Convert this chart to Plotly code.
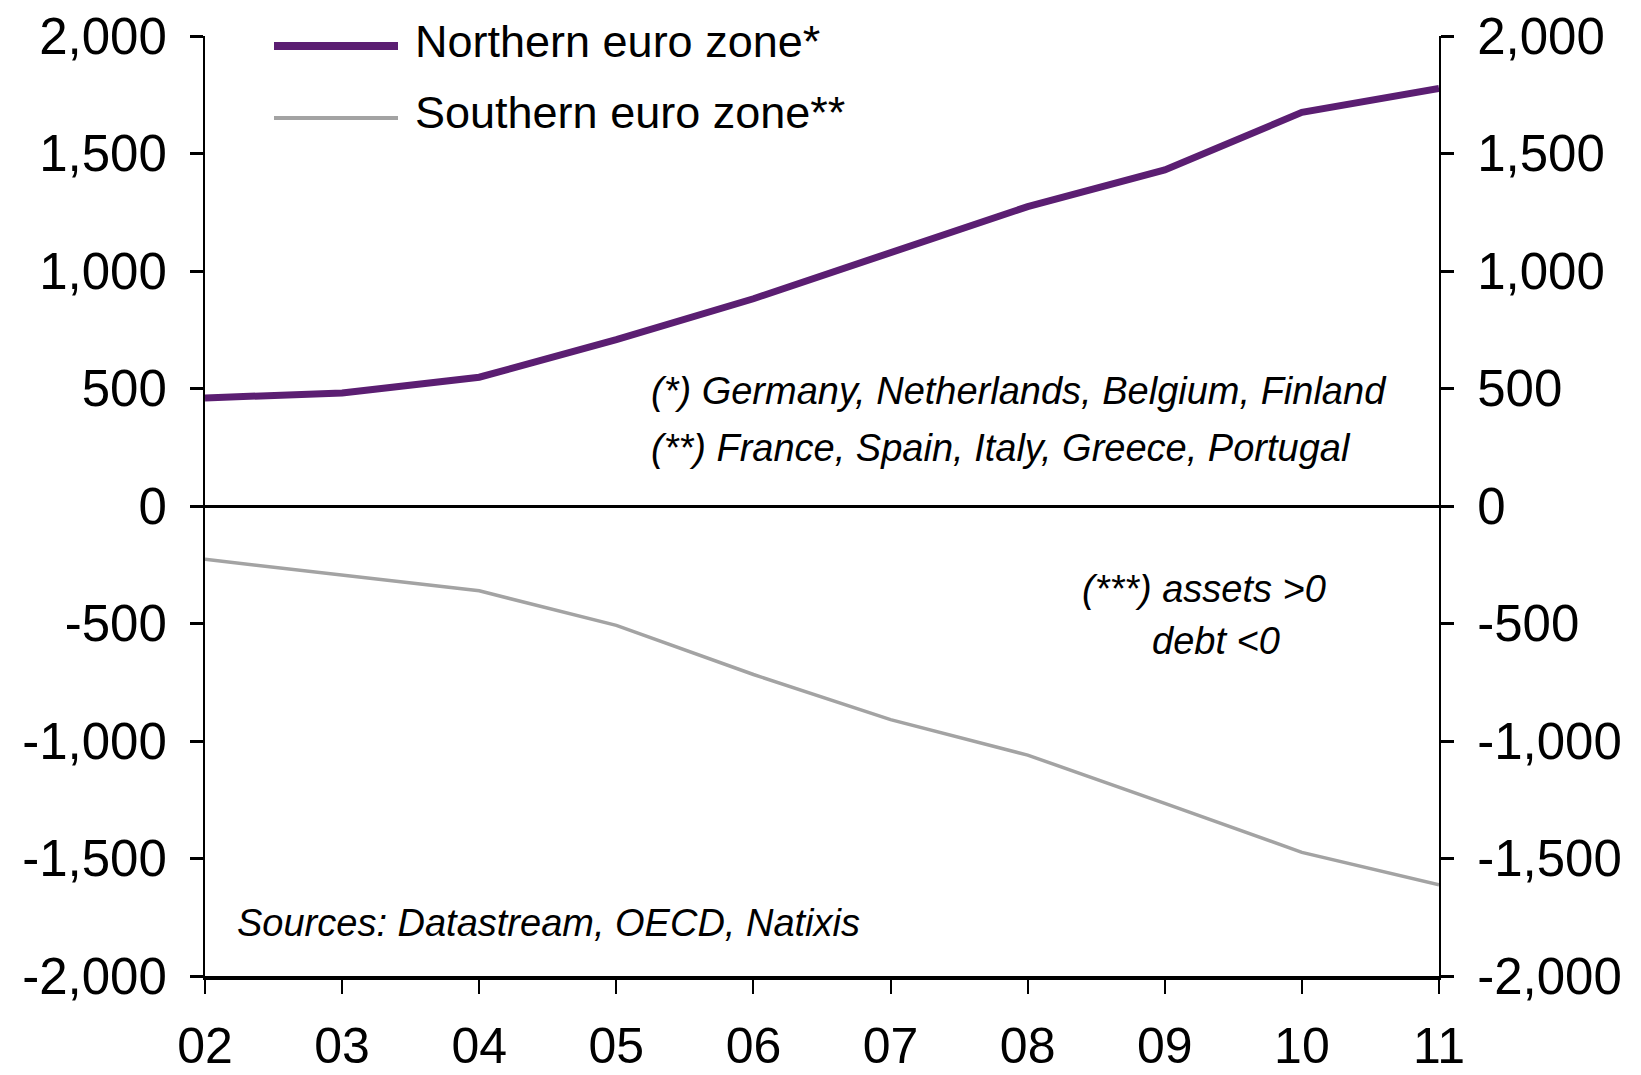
import plotly.graph_objects as go

# ---- data ----
years = [2002, 2003, 2004, 2005, 2006, 2007, 2008, 2009, 2010, 2011]
year_labels = ["02", "03", "04", "05", "06", "07", "08", "09", "10", "11"]
northern = [460, 481, 548, 708, 882, 1078, 1274, 1430, 1675, 1777]
southern = [-227, -294, -361, -508, -717, -909, -1060, -1265, -1474, -1612]
y_ticks = [-2000, -1500, -1000, -500, 0, 500, 1000, 1500, 2000]
y_tick_labels = ["-2,000", "-1,500", "-1,000", "-500", "0", "500", "1,000", "1,500", "2,000"]
series_names = ["Northern euro zone*", "Southern euro zone**"]

OFF = 8  # page body margin
W, H = 1641 - OFF, 1075 - OFF
L, R, T, B = 205, 1439, 36, 976  # plot area in screen pixels


def px(x):
    return (x - L) / (R - L)


def py(y):
    return (B - y) / (B - T)


PURPLE = "#5B1E72"
GREY = "#A3A3A3"
FONT = "Liberation Sans, Arial, sans-serif"
TICKFONT = dict(family=FONT, size=51, color="black")
XTICKFONT = dict(family=FONT, size=50, color="black")

fig = go.Figure()
fig.add_trace(go.Scatter(x=years, y=northern, mode="lines", name=series_names[0],
                         line=dict(color=PURPLE, width=7), yaxis="y"))
fig.add_trace(go.Scatter(x=years, y=southern, mode="lines", name=series_names[1],
                         line=dict(color=GREY, width=3.5), yaxis="y2"))

axis_common = dict(range=[-2000, 2000], tickvals=y_ticks, ticktext=y_tick_labels,
                   showgrid=False, showline=True, linecolor="black", linewidth=2,
                   ticks="outside", ticklen=13, tickwidth=3, tickcolor="black",
                   tickfont=TICKFONT, ticklabelstandoff=13, automargin=False,
                   ticklabeloverflow="allow")

fig.update_layout(
    width=W, height=H,
    margin=dict(l=L - OFF, r=W - (R - OFF), t=T - OFF, b=H - (B - OFF)),
    paper_bgcolor="white", plot_bgcolor="white",
    showlegend=False,
    xaxis=dict(range=[years[0], years[-1]], tickvals=years, ticktext=year_labels,
               showgrid=False, zeroline=False, showline=True, linecolor="black",
               linewidth=4, ticks="outside", ticklen=14, tickwidth=2, tickcolor="black",
               tickfont=XTICKFONT, ticklabelstandoff=9, automargin=False,
               ticklabeloverflow="allow"),
    yaxis=dict(**axis_common, side="left", zeroline=True, zerolinecolor="black",
               zerolinewidth=3),
    yaxis2=dict(**axis_common, side="right", overlaying="y", zeroline=False),
)

# legend drawn manually
legend_rows = [(series_names[0], PURPLE, 8, 46, 42), (series_names[1], GREY, 4, 118, 112)]
for name, col, w, ly, ty in legend_rows:
    fig.add_shape(type="line", xref="paper", yref="paper", x0=px(274), x1=px(398),
                  y0=py(ly), y1=py(ly), line=dict(color=col, width=w))
    fig.add_annotation(xref="paper", yref="paper", x=px(413), y=py(ty), text=name,
                       showarrow=False, xanchor="left", yanchor="middle",
                       font=dict(family=FONT, size=45, color="black"))

notes = [
    ("<i>(*) Germany, Netherlands, Belgium, Finland</i>", 649, 391, "left"),
    ("<i>(**) France, Spain, Italy, Greece, Portugal</i>", 649, 448, "left"),
    ("<i>(***) assets &gt;0</i>", 1204, 589, "center"),
    ("<i>debt &lt;0</i>", 1216, 641, "center"),
    ("<i>Sources: Datastream, OECD, Natixis</i>", 235, 923, "left"),
]
for text, x, y, anchor in notes:
    fig.add_annotation(xref="paper", yref="paper", x=px(x), y=py(y), text=text,
                       showarrow=False, xanchor=anchor, yanchor="middle",
                       font=dict(family=FONT, size=38, color="black"))

fig.write_html("out.html")
